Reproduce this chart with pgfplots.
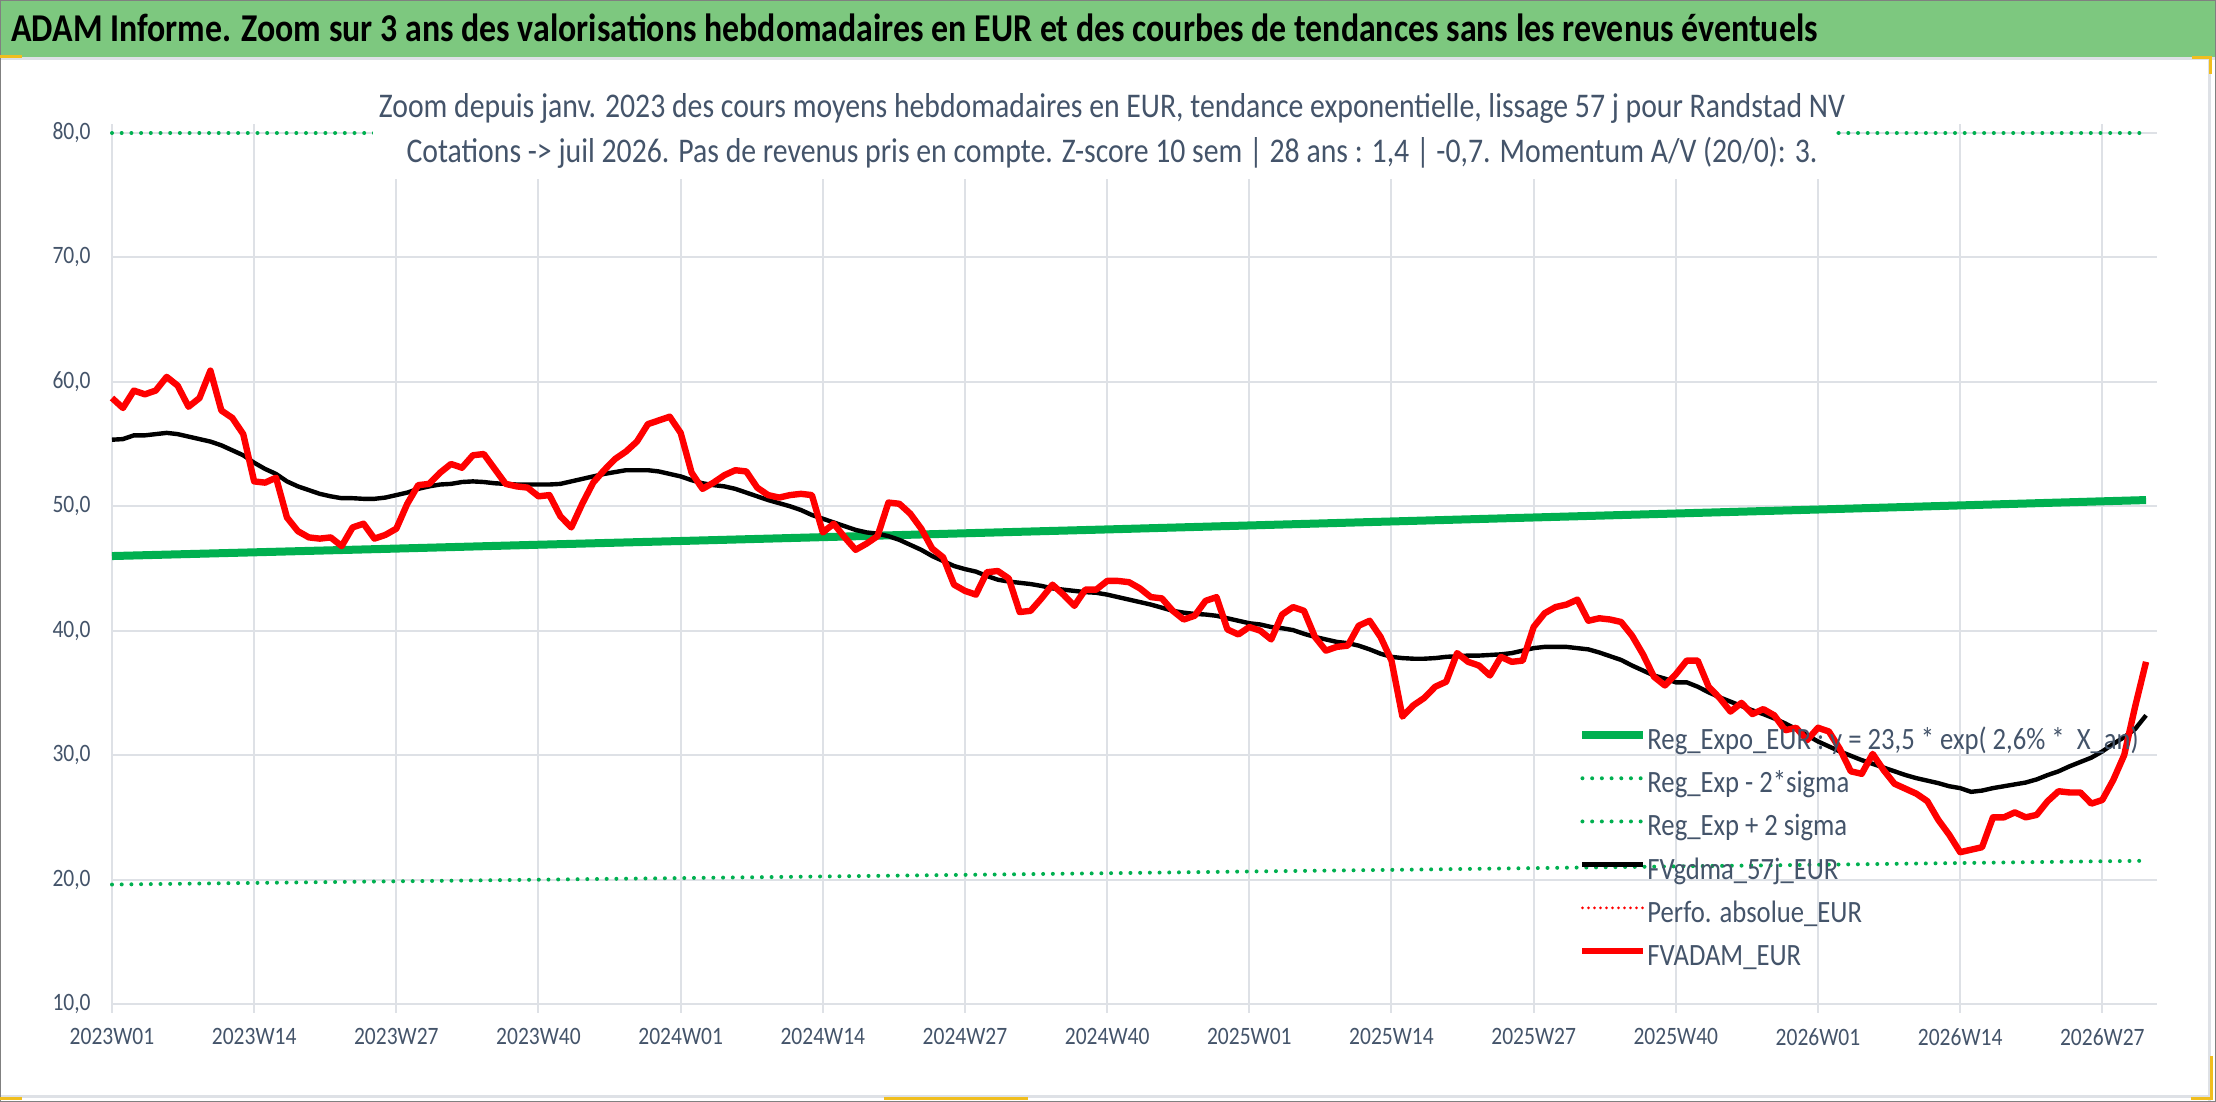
\documentclass[border=0pt]{standalone}
\usepackage{fontspec}
\setmainfont{Carlito}[FakeStretch=0.86]
\usepackage{pgfplots}
\pgfplotsset{compat=1.18}
\usepackage{pgfplotstable}
\definecolor{band}{RGB}{125,200,127}
\definecolor{txt}{RGB}{68,84,106}
\definecolor{grd}{RGB}{222,225,230}
\definecolor{xgreen}{RGB}{0,176,80}
\definecolor{xred}{RGB}{255,0,0}
\definecolor{ylw}{RGB}{240,190,30}

\pgfplotstableread{
x y
0 58.7
1 57.9
2 59.3
3 59.0
4 59.3
5 60.4
6 59.7
7 58.0
8 58.7
9 60.9
10 57.7
11 57.1
12 55.8
13 52.0
14 51.9
15 52.3
16 49.1
17 48.0
18 47.5
19 47.4
20 47.5
21 46.8
22 48.3
23 48.6
24 47.4
25 47.7
26 48.2
27 50.2
28 51.7
29 51.8
30 52.7
31 53.4
32 53.1
33 54.1
34 54.2
35 53.0
36 51.8
37 51.6
38 51.5
39 50.8
40 50.9
41 49.2
42 48.3
43 50.2
44 51.9
45 52.9
46 53.8
47 54.4
48 55.2
49 56.6
50 56.9
51 57.2
52 55.9
53 52.7
54 51.4
55 51.9
56 52.5
57 52.9
58 52.8
59 51.5
60 50.9
61 50.7
62 50.9
63 51.0
64 50.9
65 47.9
66 48.6
67 47.5
68 46.5
69 47.0
70 47.6
71 50.3
72 50.2
73 49.4
74 48.2
75 46.6
76 45.9
77 43.7
78 43.2
79 42.9
80 44.7
81 44.8
82 44.2
83 41.5
84 41.6
85 42.6
86 43.7
87 42.9
88 42.0
89 43.3
90 43.3
91 44.0
92 44.0
93 43.9
94 43.4
95 42.7
96 42.6
97 41.6
98 40.9
99 41.2
100 42.4
101 42.7
102 40.1
103 39.7
104 40.3
105 40.0
106 39.3
107 41.3
108 41.9
109 41.6
110 39.5
111 38.4
112 38.7
113 38.8
114 40.4
115 40.8
116 39.5
117 37.6
118 33.1
119 34.0
120 34.6
121 35.5
122 35.9
123 38.2
124 37.5
125 37.2
126 36.4
127 37.9
128 37.5
129 37.6
130 40.3
131 41.4
132 41.9
133 42.1
134 42.5
135 40.8
136 41.0
137 40.9
138 40.7
139 39.6
140 38.1
141 36.3
142 35.6
143 36.5
144 37.6
145 37.6
146 35.5
147 34.6
148 33.5
149 34.2
150 33.3
151 33.7
152 33.2
153 32.0
154 32.2
155 31.2
156 32.2
157 31.9
158 30.5
159 28.7
160 28.5
161 30.1
162 28.8
163 27.7
164 27.3
165 26.9
166 26.3
167 24.8
168 23.6
169 22.2
170 22.4
171 22.6
172 25.0
173 25.0
174 25.4
175 25.0
176 25.2
177 26.3
178 27.1
179 27.0
180 27.0
181 26.1
182 26.4
183 28.0
184 30.0
185 33.9
186 37.5
}\redtab

\pgfplotstableread{
x y
0 55.35
1 55.4
2 55.7
3 55.7
4 55.8
5 55.9
6 55.8
7 55.6
8 55.4
9 55.2
10 54.9
11 54.5
12 54.1
13 53.5
14 53.0
15 52.6
16 52.0
17 51.6
18 51.3
19 51.0
20 50.8
21 50.65
22 50.65
23 50.6
24 50.6
25 50.7
26 50.9
27 51.1
28 51.4
29 51.6
30 51.75
31 51.8
32 51.95
33 52.0
34 51.95
35 51.85
36 51.8
37 51.75
38 51.75
39 51.75
40 51.75
41 51.8
42 52.0
43 52.2
44 52.4
45 52.6
46 52.75
47 52.9
48 52.9
49 52.9
50 52.8
51 52.6
52 52.4
53 52.1
54 51.85
55 51.7
56 51.6
57 51.4
58 51.1
59 50.8
60 50.5
61 50.25
62 50.0
63 49.7
64 49.3
65 49.0
66 48.7
67 48.4
68 48.1
69 47.9
70 47.8
71 47.6
72 47.3
73 46.9
74 46.5
75 46.0
76 45.6
77 45.2
78 44.95
79 44.75
80 44.4
81 44.1
82 43.95
83 43.85
84 43.75
85 43.6
86 43.4
87 43.3
88 43.2
89 43.1
90 43.05
91 42.9
92 42.7
93 42.5
94 42.3
95 42.1
96 41.85
97 41.6
98 41.45
99 41.35
100 41.3
101 41.2
102 41.0
103 40.8
104 40.6
105 40.5
106 40.3
107 40.2
108 40.05
109 39.75
110 39.5
111 39.3
112 39.1
113 39.0
114 38.8
115 38.5
116 38.15
117 37.9
118 37.8
119 37.75
120 37.75
121 37.8
122 37.9
123 37.95
124 38.0
125 38.0
126 38.05
127 38.1
128 38.2
129 38.4
130 38.6
131 38.7
132 38.7
133 38.7
134 38.6
135 38.5
136 38.25
137 37.95
138 37.65
139 37.2
140 36.8
141 36.4
142 36.15
143 35.85
144 35.85
145 35.5
146 35.05
147 34.65
148 34.3
149 33.95
150 33.6
151 33.3
152 32.95
153 32.55
154 32.1
155 31.6
156 31.1
157 30.7
158 30.3
159 29.95
160 29.6
161 29.3
162 29.0
163 28.7
164 28.4
165 28.15
166 27.95
167 27.75
168 27.5
169 27.35
170 27.05
171 27.15
172 27.35
173 27.5
174 27.65
175 27.8
176 28.05
177 28.4
178 28.7
179 29.1
180 29.45
181 29.8
182 30.3
183 30.9
184 31.45
185 32.1
186 33.2
}\blacktab

\pgfplotstableread{
x y
0 46.00
13 46.30
26 46.60
39 46.91
52 47.21
65 47.52
78 47.83
91 48.14
104 48.46
117 48.78
130 49.10
143 49.42
156 49.74
169 50.07
182 50.40
186 50.50
}\greentab

\pgfplotstableread{
x y
0 19.60
13 19.73
26 19.86
39 19.99
52 20.12
65 20.25
78 20.38
91 20.51
104 20.65
117 20.78
130 20.92
143 21.06
156 21.19
169 21.33
182 21.47
186 21.51
}\lowtab

\pgfplotstableread{
x y
0 80
186 80
}\uptab

\begin{document}
\begin{tikzpicture}[x=0.5pt,y=0.5pt]
\useasboundingbox (0,0) rectangle (2216,1102);
\fill[white] (0,0) rectangle (2216,1102);
\fill[band] (0,1045) rectangle (2216,1102);
\draw[grd,line width=1.5pt] (0,1043) -- (2216,1043);
\draw[grd,line width=1.5pt] (2209,0) -- (2209,1043);
\draw[grd,line width=1.5pt] (0,5) -- (2209,5);
\draw[gray,line width=1pt] (0,0) rectangle (2216,1102);
% selection marks
\draw[ylw,line width=1.5pt] (0,1045) -- (22,1045);
\draw[ylw,line width=1.5pt] (2192,1044) -- (2210,1044) -- (2210,1028);
\draw[ylw,line width=1.5pt] (2211,46) -- (2211,3) -- (2191,3);
\draw[ylw,line width=1.5pt] (0,3) -- (22,3);
\draw[ylw,line width=1.5pt] (884,3) -- (1028,3);
\node[anchor=west,inner sep=0pt,font=\bfseries\fontsize{19.7}{22}\selectfont] at (11,1074)
  {ADAM Informe. Zoom sur 3 ans des valorisations hebdomadaires en EUR et des courbes de tendances sans les revenus éventuels};

\begin{axis}[
  at={(56pt,49pt)}, anchor=south west,
  width=1022.5pt, height=435.5pt, scale only axis,
  xmin=0, xmax=187, ymin=10, ymax=80,
  clip=false,
  axis line style={draw=none},
  xtick={0,13,26,39,52,65,78,91,104,117,130,143,156,169,182},
  xticklabels={2023W01,2023W14,2023W27,2023W40,2024W01,2024W14,2024W27,2024W40,2025W01,2025W14,2025W27,2025W40,2026W01,2026W14,2026W27},
  ytick={10,20,30,40,50,60,70,80},
  grid=major,
  major grid style={grd,line width=1pt},
  tick align=outside,
  xtick style={grd,line width=1pt},
  major tick length=4.5pt,
  ytick style={draw=none},
  tick label style={font=\fontsize{12.5}{14}\selectfont, text=txt, inner sep=0pt},
  xticklabel style={anchor=north, yshift=-7.5pt},
  yticklabel style={anchor=east, xshift=-6pt},
  /pgf/number format/.cd, fixed, fixed zerofill, precision=1, use comma, assume math mode=true,
  /pgfplots/.cd,
  legend style={draw=none, fill=none, at={(0.7169,0.3184)}, anchor=north west,
    inner sep=0pt, row sep=6.4pt,
    font=\fontsize{15.5}{18}\selectfont, text=txt,
    nodes={inner sep=0pt, text height=11.2pt, text depth=4pt},
    /tikz/every even column/.append style={column sep=4pt}},
  legend cell align=left,
  legend image code/.code={\draw[#1] (0pt,3.6pt) -- (30.5pt,3.6pt);},
]
\addplot[xgreen, line width=4pt] table[x=x,y=y] {\greentab};
\addlegendentry{Reg\_Expo\_EUR : y = 23,5 * exp( 2,6\% *\ \ X\_an)}
\addplot[xgreen, line width=2pt, line cap=round, dash pattern=on 0pt off 4.85pt] table[x=x,y=y] {\lowtab};
\addlegendentry{Reg\_Exp - 2*sigma}
\addplot[xgreen, line width=2pt, line cap=round, dash pattern=on 0pt off 4.85pt] table[x=x,y=y] {\uptab};
\addlegendentry{Reg\_Exp + 2 sigma}
\addplot[black, line width=2.2pt] table[x=x,y=y] {\blacktab};
\addlegendentry{FVgdma\_57j\_EUR}
\addlegendimage{xred, line width=1.5pt, line cap=round, dash pattern=on 0pt off 3pt}
\addlegendentry{Perfo. absolue\_EUR}
\addplot[xred, line width=3.2pt, line join=round] table[x=x,y=y] {\redtab};
\addlegendentry{FVADAM\_EUR}
\end{axis}

\fill[white] (373,923) rectangle (1836,1022);
\node[anchor=base,inner sep=0pt,text=txt,font=\fontsize{17.3}{20}\selectfont] at (1112,984)
  {Zoom depuis janv. 2023 des cours moyens hebdomadaires en EUR, tendance exponentielle, lissage 57 j pour Randstad NV};
\node[anchor=base,inner sep=0pt,text=txt,font=\fontsize{17.3}{20}\selectfont] at (1112,939)
  {Cotations -> juil 2026. Pas de revenus pris en compte. Z-score 10 sem | 28 ans : 1,4 | -0,7. Momentum A/V (20/0): 3.};
\end{tikzpicture}
\end{document}
